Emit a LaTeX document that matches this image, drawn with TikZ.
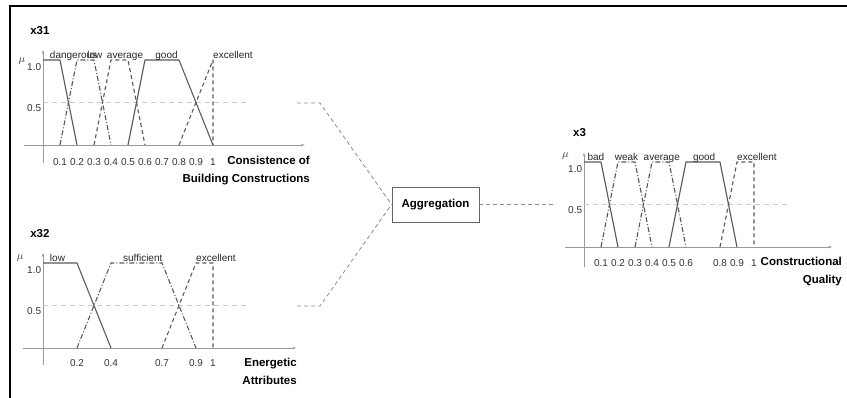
\documentclass[tikz,border=0pt]{standalone}
\usepackage{fontspec}
\setmainfont{Liberation Sans}
\usetikzlibrary{arrows}
\usetikzlibrary{arrows.meta}

\begin{document}
\begin{tikzpicture}[x=1pt,y=-1pt]
  \useasboundingbox (0,0) rectangle (847,398);

  \tikzstyle{axis}=[draw=black!40, line width=0.8pt, -{Stealth[length=4pt,width=2.5pt]}];
  \tikzstyle{mf_solid}=[draw=black!65, line width=1.1pt, line join=round];
  \tikzstyle{mf_dashed}=[mf_solid, dash pattern=on 4pt off 3pt];
  \tikzstyle{mf_dashdot}=[mf_solid, dash pattern=on 5pt off 2pt on 1pt off 2pt];
  \tikzstyle{half}=[draw=black!20, line width=0.6pt, dash pattern=on 5pt off 4pt];
  \tikzstyle{link}=[draw=black!45, line width=0.8pt, dash pattern=on 4pt off 3pt];
  \tikzstyle{term}=[font=\fontsize{10}{12}\selectfont, text=black!85, inner sep=0pt, anchor=base west];
  \tikzstyle{tick}=[font=\fontsize{10}{12}\selectfont, text=black!80, inner sep=0pt];
  \tikzstyle{level}=[tick, anchor=east];
  \tikzstyle{mu}=[font=\fontsize{10.5}{12}\selectfont, text=black!80, inner sep=0pt];
  \tikzstyle{varname}=[font=\fontsize{11.5}{13}\selectfont\bfseries, inner sep=0pt, anchor=west];
  \tikzstyle{axisname}=[font=\fontsize{11.5}{17.5}\selectfont\bfseries, inner sep=0pt, align=right, anchor=north east];
  \tikzstyle{aggbox}=[draw=black!60, line width=0.9pt, font=\fontsize{11.5}{13}\selectfont\bfseries,
                      minimum width=87pt, minimum height=35pt, inner sep=0pt];

  % frame
  \draw[line width=1.5pt] (10,398) -- (10,6) -- (847,6);

  % x31
  \begin{scope}[shift={(43,145)}, x=170pt, y=85pt]
    \draw[axis] (-0.11,0) -- (1.54,0);
    \draw[axis] (0,-0.21) -- (0,1.12);
    \draw[half] (0,0.5) -- (1.2,0.5);

    \node (x31) at (-0.076,1.35)[varname]{x31};
    \node (mu31) at (-0.124,0.98)[mu]{$\mu$};
    \node (one31) at (-0.01,0.918)[level]{1.0};
    \node (half31) at (-0.01,0.44)[level]{0.5};

    \draw[mf_solid] (0,1) -- (0.1,1) -- (0.2,0);
    \draw[mf_dashdot] (0.1,0) -- (0.2,1) -- (0.3,1) -- (0.4,0);
    \draw[mf_dashed] (0.3,0) -- (0.4,1) -- (0.5,1) -- (0.6,0);
    \draw[mf_solid] (0.5,0) -- (0.6,1) -- (0.8,1) -- (1,0);
    \draw[mf_dashed] (0.8,0) -- (1,1) -- (1,0);

    \node (dangerous) at (0.04,1.02)[term]{dangerous};
    \node (low31) at (0.26,1.02)[term]{low};
    \node (average31) at (0.375,1.02)[term]{average};
    \node (good31) at (0.66,1.02)[term]{good};
    \node (excellent31) at (1.0,1.02)[term]{excellent};

    \foreach \t in {0.1,0.2,0.3,0.4,0.5,0.6,0.7,0.8,0.9}
      \node (t31-\t) at (\t,-0.2)[tick]{\t};
    \node (t31-1) at (1,-0.2)[tick]{1};

    \node (name31) at (1.57,-0.13)[axisname]{Consistence of\\Building Constructions};
  \end{scope}

  % x32
  \begin{scope}[shift={(43,348)}, x=170pt, y=85pt]
    \draw[axis] (-0.12,0) -- (1.49,0);
    \draw[axis] (0,-0.2) -- (0,1.12);
    \draw[half] (0,0.5) -- (1.2,0.5);

    \node (x32) at (-0.076,1.35)[varname]{x32};
    \node (mu32) at (-0.135,1.06)[mu]{$\mu$};
    \node (one32) at (-0.01,0.918)[level]{1.0};
    \node (half32) at (-0.01,0.44)[level]{0.5};

    \draw[mf_solid] (0,1) -- (0.2,1) -- (0.4,0);
    \draw[mf_dashdot] (0.2,0) -- (0.4,1) -- (0.7,1) -- (0.9,0);
    \draw[mf_dashed] (0.7,0) -- (0.9,1) -- (1,1) -- (1,0);

    \node (low32) at (0.04,1.02)[term]{low};
    \node (sufficient) at (0.47,1.02)[term]{sufficient};
    \node (excellent32) at (0.9,1.02)[term]{excellent};

    \foreach \t in {0.2,0.4,0.7,0.9}
      \node (t32-\t) at (\t,-0.18)[tick]{\t};
    \node (t32-1) at (1,-0.18)[tick]{1};

    \node (name32) at (1.494,-0.118)[axisname]{Energetic\\Attributes};
  \end{scope}

  % x3
  \begin{scope}[shift={(584,247)}, x=170pt, y=85pt]
    \draw[axis] (-0.11,0) -- (1.46,0);
    \draw[axis] (0,-0.24) -- (0,1.11);
    \draw[half] (0,0.5) -- (1.21,0.5);

    \node (x3) at (-0.065,1.35)[varname]{x3};
    \node (mu3) at (-0.11,1.07)[mu]{$\mu$};
    \node (one3) at (-0.01,0.918)[level]{1.0};
    \node (half3) at (-0.01,0.44)[level]{0.5};

    \draw[mf_solid] (0,1) -- (0.1,1) -- (0.2,0);
    \draw[mf_dashdot] (0.1,0) -- (0.2,1) -- (0.3,1) -- (0.4,0);
    \draw[mf_dashdot] (0.3,0) -- (0.4,1) -- (0.5,1) -- (0.6,0);
    \draw[mf_solid] (0.5,0) -- (0.6,1) -- (0.8,1) -- (0.9,0);
    \draw[mf_dashed] (0.8,0) -- (0.9,1) -- (1,1) -- (1,0);

    \node (bad) at (0.02,1.02)[term]{bad};
    \node (weak) at (0.18,1.02)[term]{weak};
    \node (average3) at (0.35,1.02)[term]{average};
    \node (good3) at (0.64,1.02)[term]{good};
    \node (excellent3) at (0.9,1.02)[term]{excellent};

    \foreach \t in {0.1,0.2,0.3,0.4,0.5,0.6,0.8,0.9}
      \node (t3-\t) at (\t,-0.19)[tick]{\t};
    \node (t3-1) at (1,-0.19)[tick]{1};

    \node (name3) at (1.518,-0.118)[axisname]{Constructional\\Quality};
  \end{scope}

  % aggregation
  \node (aggregation) at (435.5,204.5)[aggbox]{Aggregation};

  \coordinate (from31) at (297,103);
  \coordinate (bend31) at (320,103);
  \coordinate (from32) at (297,306);
  \coordinate (bend32) at (320,306);
  \coordinate (to3) at (553,204.5);

  \draw[link] (from31) -- (bend31) -- (aggregation.west);
  \draw[link] (from32) -- (bend32) -- (aggregation.west);
  \draw[link] (aggregation.east) -- (to3);

\end{tikzpicture}
\end{document}
